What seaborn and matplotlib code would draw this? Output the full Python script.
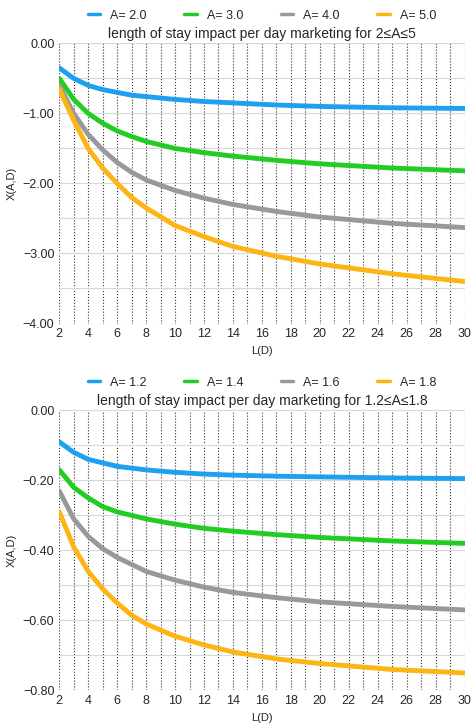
import matplotlib
matplotlib.use("Agg")
from matplotlib import pyplot as plt
from matplotlib.ticker import MultipleLocator
import pandas as pd
import seaborn as sns

days = [2, 3, 4, 5, 6, 7, 8, 10, 12, 14, 17, 20, 25, 30]

top_labels = ["A= 2.0", "A= 3.0", "A= 4.0", "A= 5.0"]
top_a2 = [-0.35, -0.50, -0.60, -0.66, -0.70, -0.74, -0.76, -0.80, -0.83, -0.85, -0.88, -0.90, -0.92, -0.93]
top_a3 = [-0.50, -0.80, -1.00, -1.14, -1.25, -1.33, -1.40, -1.50, -1.56, -1.61, -1.67, -1.72, -1.78, -1.82]
top_a4 = [-0.60, -1.00, -1.30, -1.52, -1.70, -1.84, -1.95, -2.10, -2.21, -2.30, -2.40, -2.48, -2.57, -2.63]
top_a5 = [-0.65, -1.10, -1.50, -1.78, -2.00, -2.20, -2.35, -2.60, -2.76, -2.90, -3.04, -3.15, -3.29, -3.40]

bot_labels = ["A= 1.2", "A= 1.4", "A= 1.6", "A= 1.8"]
bot_a12 = [-0.09, -0.12, -0.14, -0.15, -0.16, -0.165, -0.17, -0.177, -0.182, -0.185, -0.188, -0.19, -0.193, -0.195]
bot_a14 = [-0.17, -0.22, -0.25, -0.275, -0.29, -0.30, -0.31, -0.325, -0.337, -0.345, -0.355, -0.363, -0.373, -0.38]
bot_a16 = [-0.23, -0.31, -0.36, -0.395, -0.42, -0.44, -0.46, -0.485, -0.505, -0.52, -0.535, -0.547, -0.56, -0.57]
bot_a18 = [-0.29, -0.39, -0.46, -0.51, -0.55, -0.585, -0.61, -0.645, -0.67, -0.69, -0.71, -0.723, -0.74, -0.75]

colors = ["#1ea0f0", "#22cc22", "#999999", "#fdb515"]

sns.set_style("white")
plt.rcParams["font.family"] = ["Liberation Sans", "DejaVu Sans"]

fig, axes = plt.subplots(2, 1, figsize=(4.74, 7.23), dpi=100)

panels = [
    (axes[0], top_labels, [top_a2, top_a3, top_a4, top_a5],
     "length of stay impact per day marketing for 2≤A≤5", (-4.0, 0.0), 1.0, 0.5),
    (axes[1], bot_labels, [bot_a12, bot_a14, bot_a16, bot_a18],
     "length of stay impact per day marketing for 1.2≤A≤1.8", (-0.8, 0.0), 0.2, 0.1),
]

for ax, labels, series, title, ylim, major, minor in panels:
    rows = []
    for lab, vals in zip(labels, series):
        for d, v in zip(days, vals):
            rows.append({"L(D)": d, "X(A,D)": v, "A": lab})
    df = pd.DataFrame(rows)
    sns.lineplot(data=df, x="L(D)", y="X(A,D)", hue="A", palette=colors,
                 linewidth=3.5, ax=ax)
    ax.set_xlim(2, 30)
    ax.set_ylim(*ylim)
    ax.xaxis.set_major_locator(MultipleLocator(2))
    ax.xaxis.set_minor_locator(MultipleLocator(1))
    ax.yaxis.set_major_locator(MultipleLocator(major))
    ax.yaxis.set_minor_locator(MultipleLocator(minor))
    ax.yaxis.set_major_formatter(plt.FuncFormatter(lambda v, p: f"{v:.2f}".replace("-", "−")))
    ax.grid(True, axis="x", which="both", linestyle=":", color="#333333", linewidth=0.8)
    ax.grid(True, axis="y", which="both", linestyle="-", color="#d8d8d8", linewidth=0.8)
    ax.set_axisbelow(True)
    for s in ax.spines.values():
        s.set_visible(False)
    ax.tick_params(labelsize=9, length=0)
    ax.set_xlabel("L(D)", fontsize=8)
    ax.set_ylabel("X(A,D)", fontsize=8)
    ax.set_title(title, fontsize=10, pad=4)
    ax.legend(loc="lower center", bbox_to_anchor=(0.5, 1.06), ncol=4, frameon=False,
              fontsize=9, handlelength=1.0, columnspacing=3.0, borderaxespad=0)
    for line in ax.get_legend().get_lines():
        line.set_linewidth(2.5)

fig.subplots_adjust(left=0.125, right=0.98, top=0.94, bottom=0.045, hspace=0.31)
fig.savefig("out.png", dpi=100)
